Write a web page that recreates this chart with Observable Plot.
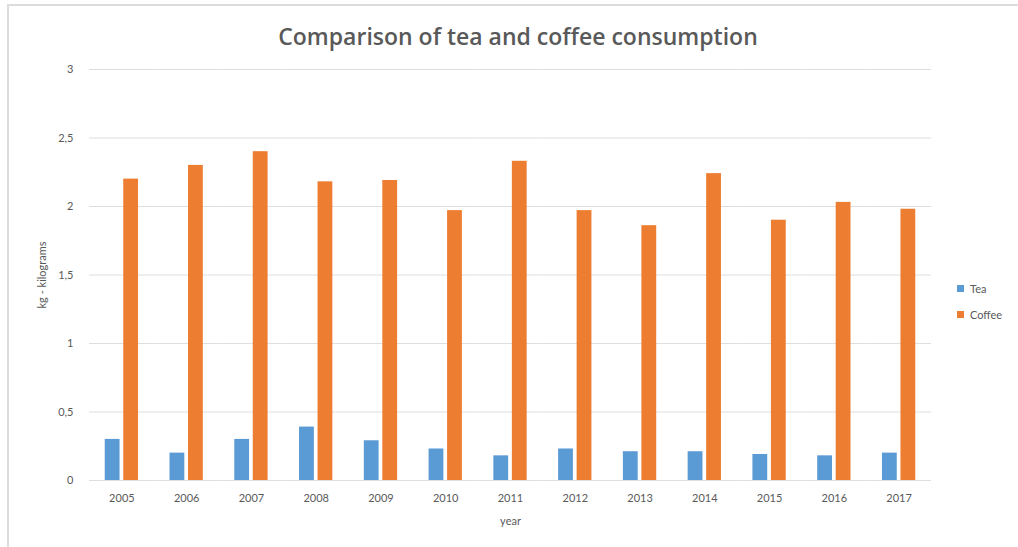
<!DOCTYPE html>
<html>
<head>
<meta charset="utf-8">
<script src="https://cdn.jsdelivr.net/npm/d3@7"></script>
<script src="https://cdn.jsdelivr.net/npm/@observablehq/plot@0.6"></script>
<style>
  html, body { margin: 0; padding: 0; background: #fff; }
  #wrap { position: relative; width: 1018px; height: 547px; overflow: hidden; }
  #frame { position: absolute; left: 7px; top: 4px; width: 1100px; height: 600px;
           border-left: 2px solid #dcdcdc; border-top: 2px solid #dcdcdc; }
  #title { position: absolute; left: 0; width: 1036px; top: 20px; text-align: center;
           font-family: "Open Sans", sans-serif; font-weight: 600; font-size: 23px; color: #595959; }
  #chart { position: absolute; left: 0; top: 0; }
  #legend { position: absolute; left: 957px; top: 275px; font-family: Lato, sans-serif;
            font-size: 11px; color: #595959; }
  .item { display: flex; align-items: center; height: 26px; }
  .sw { width: 7px; height: 7px; margin-right: 6px; }
</style>
</head>
<body>
<div id="wrap">
  <div id="frame"></div>
  <div id="chart"></div>
  <div id="title">Comparison of tea and coffee consumption</div>
  <div id="legend"></div>
</div>
<script>
const years = [2005, 2006, 2007, 2008, 2009, 2010, 2011, 2012, 2013, 2014, 2015, 2016, 2017];
const teaValues = [0.30, 0.20, 0.30, 0.39, 0.29, 0.23, 0.18, 0.23, 0.21, 0.21, 0.19, 0.18, 0.20];
const coffeeValues = [2.20, 2.30, 2.40, 2.18, 2.19, 1.97, 2.33, 1.97, 1.86, 2.24, 1.90, 2.03, 1.98];
const seriesNames = ["Tea", "Coffee"];
const seriesColors = ["#5B9BD5", "#ED7D31"];
const yTicks = [0, 0.5, 1, 1.5, 2, 2.5, 3];

const data = [];
years.forEach((yr, i) => {
  data.push({year: yr, series: "Tea", value: teaValues[i]});
  data.push({year: yr, series: "Coffee", value: coffeeValues[i]});
});

const fmt = v => String(v).replace(".", ",");

const chart = Plot.plot({
  width: 1018,
  height: 547,
  marginLeft: 89,
  marginRight: 87,
  marginTop: 69,
  marginBottom: 67,
  style: {fontFamily: "Lato, sans-serif", fontSize: "11px", color: "#595959", background: "transparent"},
  fx: {domain: years, padding: 0, round: false},
  x: {domain: seriesNames, paddingInner: 0.2, paddingOuter: 0.85, round: false, axis: null},
  y: {domain: [0, 3]},
  color: {domain: seriesNames, range: seriesColors},
  marks: [
    Plot.gridY(yTicks, {stroke: "#dedede", strokeOpacity: 1}),
    Plot.barY(data, {fx: "year", x: "series", y: "value", fill: "series"}),
    Plot.axisY(yTicks, {tickSize: 0, tickPadding: 16, tickFormat: fmt, label: "kg - kilograms",
      labelAnchor: "center", labelArrow: "none", labelOffset: 51, fill: "#595959", fontSize: 11}),
    Plot.axisFx({anchor: "bottom", tickSize: 0, tickPadding: 14, tickFormat: d => String(d),
      label: "year", labelAnchor: "center", labelArrow: "none",
      labelOffset: 44, fill: "#595959", fontSize: 11})
  ]
});
document.getElementById("chart").appendChild(chart);

const legend = document.getElementById("legend");
seriesNames.forEach((s, i) => {
  const it = document.createElement("div");
  it.className = "item";
  it.innerHTML = `<span class="sw" style="background:${seriesColors[i]}"></span><span>${s}</span>`;
  legend.appendChild(it);
});
</script>
</body>
</html>
